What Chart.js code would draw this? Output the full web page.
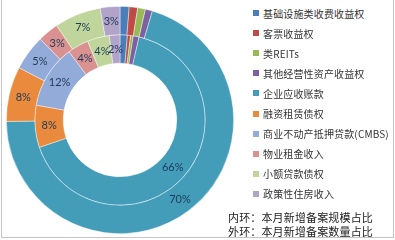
<!DOCTYPE html>
<html>
<head>
<meta charset="utf-8">
<script src="https://cdn.jsdelivr.net/npm/chart.js@4"></script>
<style>
    body { margin: 0; background: #fff; }
    #wrap { position: relative; width: 395px; height: 240px; overflow: hidden; font-family: "Noto Sans CJK SC", sans-serif; }
    #frame { position: absolute; left: 1px; top: 0; width: 393px; height: 238px; box-sizing: border-box; border: 1px solid #c4c4c4; border-top: none; }
    #chartBox { position: absolute; left: 0; top: 0; width: 240px; height: 240px; }
    .legend-item { position: absolute; left: 253px; height: 14px; display: flex; align-items: center; font-size: 10px; letter-spacing: 0.15px; color: #333; white-space: nowrap; }
    .legend-box { width: 6px; height: 6px; margin-right: 4px; }
    .note { position: absolute; left: 228px; font-size: 11px; letter-spacing: 0.15px; color: #222; white-space: nowrap; line-height: 14px; }
</style>
</head>
<body>
<div id="wrap">
    <div id="frame"></div>
    <div id="chartBox"><canvas id="ringChart"></canvas></div>
    <div id="legend"></div>
    <div class="note" style="top: 210px;">内环：本月新增备案规模占比</div>
    <div class="note" style="top: 224px;">外环：本月新增备案数量占比</div>
</div>
<script>
const categories = ['基础设施类收费收益权', '客票收益权', '类REITs', '其他经营性资产收益权', '企业应收账款',
    '融资租赁债权', '商业不动产抵押贷款(CMBS)', '物业租金收入', '小额贷款债权', '政策性住房收入'];

// outer ring: count share (%)
const outerCount = [1.3, 1.2, 1.1, 1.0, 70.2, 7.8, 5.0, 3.0, 6.6, 2.8];
// inner ring: size share (%)
const innerSize = [1.4, 0.6, 0.5, 1.1, 66.2, 8.0, 12.0, 4.0, 4.2, 2.0];

const colors = ['#4a7ebb', '#be4b48', '#98b954', '#7d60a0', '#439db8',
    '#ea8a3c', '#93abd8', '#d99290', '#bfd59b', '#b2a3c8'];

// legend
const legend = document.getElementById('legend');
categories.forEach((name, i) => {
    const item = document.createElement('div');
    item.className = 'legend-item';
    item.style.top = (6 + i * 20.1) + 'px';
    item.innerHTML = `<span class="legend-box" style="background:${colors[i]}"></span><span>${name}</span>`;
    legend.appendChild(item);
});

const pctLabels = {
    id: 'pctLabels',
    afterDatasetsDraw(chart) {
        const ctx = chart.ctx;
        ctx.save();
        ctx.font = '11px Lato';
        ctx.fillStyle = '#1f3b5c';
        ctx.textAlign = 'center';
        ctx.textBaseline = 'middle';
        chart.data.datasets.forEach((ds, i) => {
            const meta = chart.getDatasetMeta(i);
            const total = ds.data.reduce((a, b) => a + b, 0);
            meta.data.forEach((arc, j) => {
                if (ds.data[j] < 1.5) return;
                const p = arc.tooltipPosition();
                ctx.fillText(Math.round(ds.data[j] / total * 100) + '%', p.x, p.y);
            });
        });
        ctx.restore();
    }
};

new Chart(document.getElementById('ringChart'), {
    type: 'doughnut',
    data: {
        labels: categories,
        datasets: [
            {
                label: '外环',
                data: outerCount,
                backgroundColor: colors,
                borderColor: 'rgba(255, 255, 255, 0.55)',
                borderWidth: 0.75
            },
            {
                label: '内环',
                data: innerSize,
                backgroundColor: colors,
                borderColor: 'rgba(255, 255, 255, 0.55)',
                borderWidth: 0.75
            }
        ]
    },
    options: {
        responsive: true,
        maintainAspectRatio: false,
        animation: false,
        cutout: '50%',
        layout: { padding: 6 },
        plugins: {
            legend: { display: false },
            tooltip: { enabled: false }
        }
    },
    plugins: [pctLabels]
});
</script>
</body>
</html>
